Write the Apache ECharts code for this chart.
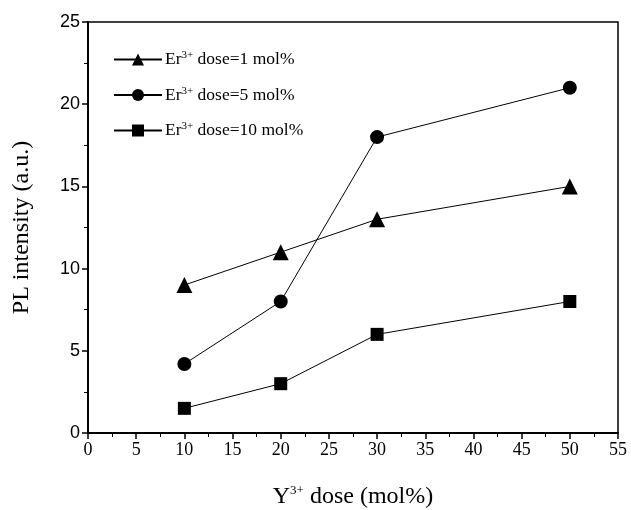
<!DOCTYPE html>
<html>
<head>
<meta charset="utf-8">
<script src="https://cdn.jsdelivr.net/npm/echarts@6/dist/echarts.min.js"></script>
<style>
  html, body { margin: 0; padding: 0; background: #fff; }
  #chart { width: 631px; height: 510px; }
</style>
</head>
<body>
<div id="chart"></div>
<script>
const yDose = [10, 20, 30, 50];
const er1 = [9, 11, 13, 15];
const er5 = [4.2, 8, 18, 21];
const er10 = [1.5, 3, 6, 8];
const seriesNames = ['Er{s|3+} dose=1 mol%', 'Er{s|3+} dose=5 mol%', 'Er{s|3+} dose=10 mol%'];

const chart = echarts.init(document.getElementById('chart'));

function pairs(ys) {
  return yDose.map((x, i) => [x, ys[i]]);
}

function makeSeries(name, data, symbol, size) {
  return {
    name: name,
    type: 'line',
    data: pairs(data),
    symbol: symbol,
    symbolSize: size,
    color: '#000',
    lineStyle: { color: '#000', width: 1 },
    itemStyle: { color: '#000' },
    emphasis: { disabled: true }
  };
}

const serif = '"Liberation Serif", "Times New Roman", serif';

const option = {
  backgroundColor: '#fff',
  animation: false,
  grid: {
    left: 88, right: 13, top: 22, bottom: 77,
    outerBoundsMode: 'none',
    containLabel: false,
    show: true,
    borderColor: '#000',
    borderWidth: 1.5
  },
  legend: {
    orient: 'vertical',
    left: 108,
    top: 45,
    itemWidth: 48,
    itemHeight: 15,
    itemGap: 17,
    data: seriesNames,
    textStyle: {
      fontFamily: serif,
      fontSize: 17.5,
      color: '#000',
      padding: [0, 0, 0, -2],
      rich: {
        s: { fontSize: 11, verticalAlign: 'top', padding: [0, 0, 8, 0], fontFamily: serif, color: '#000' }
      }
    }
  },
  xAxis: {
    type: 'value',
    min: 0, max: 55, interval: 5,
    name: 'Y{s|3+} dose (mol%)',
    nameLocation: 'middle',
    nameGap: 51,
    nameTextStyle: {
      fontFamily: serif, fontSize: 24, color: '#000',
      rich: { s: { fontSize: 13, verticalAlign: 'top', padding: [0, 0, 12, 0], fontFamily: serif, color: '#000' } }
    },
    axisLine: { lineStyle: { color: '#000', width: 2 } },
    axisTick: { inside: false, length: 6, lineStyle: { color: '#000', width: 1.5 } },
    minorTick: { show: true, splitNumber: 2, length: 4, lineStyle: { color: '#000' } },
    axisLabel: { fontFamily: serif, fontSize: 18, color: '#000', margin: 8 },
    splitLine: { show: false }
  },
  yAxis: {
    type: 'value',
    min: 0, max: 25, interval: 5,
    name: 'PL intensity (a.u.)',
    nameLocation: 'middle',
    nameGap: 54,
    nameTextStyle: { fontFamily: serif, fontSize: 24, color: '#000' },
    axisLine: { lineStyle: { color: '#000', width: 2 } },
    axisTick: { inside: false, length: 6, lineStyle: { color: '#000', width: 1.5 } },
    minorTick: { show: true, splitNumber: 2, length: 4, lineStyle: { color: '#000' } },
    axisLabel: { fontFamily: '"Liberation Sans", Arial, sans-serif', fontSize: 18, color: '#000', margin: 8 },
    splitLine: { show: false }
  },
  series: [
    makeSeries(seriesNames[0], er1, 'triangle', 16),
    makeSeries(seriesNames[1], er5, 'circle', 14),
    makeSeries(seriesNames[2], er10, 'rect', 13)
  ]
};

chart.setOption(option);
</script>
</body>
</html>
